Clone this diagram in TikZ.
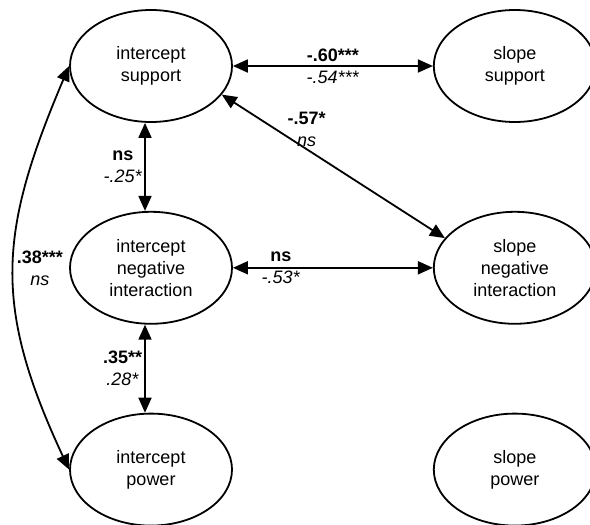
\documentclass[tikz,border=0pt]{standalone}
\usepackage{fontspec}
\setmainfont{Liberation Sans}
\usepackage{tikz}
\usetikzlibrary{positioning, shapes.geometric, arrows.meta}

\begin{document}
\begin{tikzpicture}[
    >={Triangle[length=15pt, width=13pt]},
    node distance=88pt and 200pt,
    % -------------------------------------------------
    % Node styles
    % -------------------------------------------------
    latent/.style={
        ellipse,
        draw=black,
        line width=1.8pt,
        minimum width=162pt,
        minimum height=112pt,
        inner sep=0pt,
        align=center,
        font=\fontsize{18}{22}\selectfont
    },
    % -------------------------------------------------
    % Connections
    % -------------------------------------------------
    arrow/.style={
        <->,
        line width=1.8pt,
        draw=black
    },
    coeflabel/.style={
        font=\fontsize{18}{22}\selectfont,
        align=center,
        inner sep=2pt
    }
]

\useasboundingbox (0,0) rectangle (590pt,-525pt);

% =====================================================
% Intercepts
% =====================================================

\node[latent] (intsupport) at (151pt,-66pt)
    {intercept\\support};

\node[latent, below=of intsupport] (intneg)
    {intercept\\negative\\interaction};

\node[latent, below=of intneg] (intpower)
    {intercept\\power};

% =====================================================
% Slopes
% =====================================================

\node[latent, right=of intsupport] (slpsupport)
    {slope\\support};

\node[latent, right=of intneg] (slpneg)
    {slope\\negative\\interaction};

\node[latent, right=of intpower] (slppower)
    {slope\\power};

% =====================================================
% Intercept - slope covariances
% =====================================================

\draw[arrow]
    (intsupport) -- node[coeflabel]
    {\textbf{-.60***}\\\textit{-.54***}} (slpsupport);

\draw[arrow]
    (intsupport.-22) -- node[
        coeflabel,
        pos=0.38,
        above
    ]{\textbf{-.57*}\\\textit{ns}} (slpneg.157);

\draw[arrow]
    (intneg) -- node[
        coeflabel,
        pos=0.24
    ]{\textbf{ns}\\\textit{-.53*}} (slpneg);

% =====================================================
% Intercept - intercept covariances
% =====================================================

\draw[arrow]
    ([xshift=-6pt]intsupport.south) -- node[
        coeflabel,
        left
    ]{\textbf{ns}\\\textit{-.25*}} ([xshift=-6pt]intneg.north);

\draw[arrow]
    ([xshift=-6pt]intneg.south) -- node[
        coeflabel,
        left
    ]{\textbf{.35**}\\\textit{.28*}} ([xshift=-6pt]intpower.north);

\draw[arrow]
    (intsupport.west) to[out=247, in=115, looseness=1.15] node[
        coeflabel,
        right
    ]{\textbf{.38***}\\\textit{ns}} (intpower.west);

\end{tikzpicture}
\end{document}
